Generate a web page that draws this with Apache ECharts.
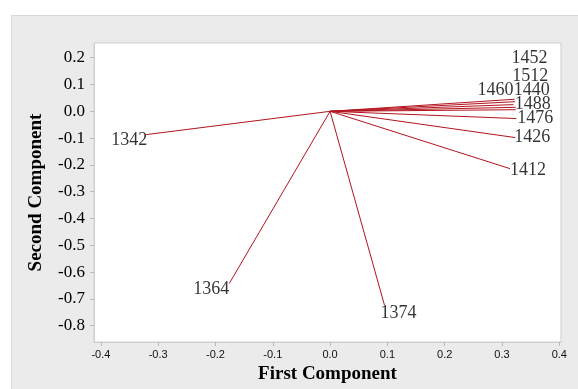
<!DOCTYPE html>
<html>
<head>
<meta charset="utf-8">
<script src="https://cdn.jsdelivr.net/npm/echarts@6/dist/echarts.min.js"></script>
<style>
  html, body { margin: 0; padding: 0; background: #ffffff; }
  #wrap { position: relative; width: 578px; height: 389px; overflow: hidden; }
  #panel { position: absolute; left: 11px; top: 15px; right: -2px; bottom: -2px;
           background: #ebebeb; border: 1px solid #d9d9d9; }
  #chart { position: absolute; left: 0; top: 0; width: 578px; height: 389px; }
</style>
</head>
<body>
<div id="wrap"><div id="panel"></div><div id="chart"></div></div>
<script>
// Loadings of each wavenumber variable on the first two principal components
const variables       = ['1342', '1364', '1374', '1412', '1426', '1440', '1452', '1460', '1476', '1488', '1512'];
const firstComponent  = [-0.321, -0.176, 0.095, 0.314, 0.323, 0.324, 0.322, 0.320, 0.325, 0.324, 0.323];
const secondComponent = [-0.087, -0.643, -0.724, -0.214, -0.098, 0.015, 0.045, 0.025, -0.027, 0.006, 0.036];

const xTicks = [-0.4, -0.3, -0.2, -0.1, 0.0, 0.1, 0.2, 0.3, 0.4];
const yTicks = [0.2, 0.1, 0.0, -0.1, -0.2, -0.3, -0.4, -0.5, -0.6, -0.7, -0.8];

// Pixel nudges for the variable labels so crowded names stay readable
const labelNudge = {
  '1342': [-17, 6], '1364': [-18, 6], '1374': [14, 8], '1412': [18, 2],
  '1426': [17, 0], '1440': [16, -17], '1452': [15, -41], '1460': [-18, -14],
  '1476': [19, 0], '1488': [17, -5], '1512': [15, -25]
};

const lineColor = '#b4141e';
const serif = '"Liberation Serif", "DejaVu Serif", serif';

const series = variables.map((name, i) => ({
  type: 'line',
  name: name,
  data: [[0, 0], [firstComponent[i], secondComponent[i]]],
  symbol: 'none',
  lineStyle: { color: lineColor, width: 1 },
  silent: true,
  z: 2
}));

series.push({
  type: 'scatter',
  symbolSize: 1,
  itemStyle: { color: 'rgba(0,0,0,0)' },
  silent: true,
  z: 3,
  data: variables.map((name, i) => ({
    value: [firstComponent[i], secondComponent[i]],
    name: name,
    label: {
      show: true,
      position: 'inside',
      offset: labelNudge[name],
      formatter: name,
      fontFamily: serif,
      fontSize: 18,
      color: '#000'
    }
  }))
});

const chart = echarts.init(document.getElementById('chart'), null, { renderer: 'canvas' });
chart.setOption({
  animation: false,
  grid: {
    left: 94, top: 43, right: 17, bottom: 47,
    show: true, backgroundColor: '#ffffff', borderColor: '#cfcfcf', borderWidth: 1
  },
  xAxis: {
    type: 'value',
    min: -0.412, max: 0.403,
    name: 'First Component',
    nameLocation: 'middle',
    nameGap: 21,
    nameTextStyle: { fontFamily: serif, fontWeight: 'bold', fontSize: 19, color: '#000' },
    axisLine: { show: true, onZero: false, lineStyle: { color: '#cfcfcf' } },
    splitLine: { show: false },
    axisTick: { show: true, length: 4, customValues: xTicks, lineStyle: { color: '#b8b8b8' } },
    axisLabel: {
      customValues: xTicks,
      formatter: v => v.toFixed(1),
      fontFamily: '"Liberation Sans", Arial, sans-serif',
      fontSize: 11,
      color: '#111',
      margin: 7
    }
  },
  yAxis: {
    type: 'value',
    min: -0.861, max: 0.255,
    name: 'Second Component',
    nameLocation: 'middle',
    nameGap: 48,
    nameTextStyle: { fontFamily: serif, fontWeight: 'bold', fontSize: 19, color: '#000' },
    axisLine: { show: true, onZero: false, lineStyle: { color: '#cfcfcf' } },
    splitLine: { show: false },
    axisTick: { show: true, length: 4, customValues: yTicks, lineStyle: { color: '#b8b8b8' } },
    axisLabel: {
      customValues: yTicks,
      formatter: v => v.toFixed(1),
      fontFamily: serif,
      fontSize: 17,
      color: '#000',
      margin: 9
    }
  },
  series: series
});
</script>
</body>
</html>
